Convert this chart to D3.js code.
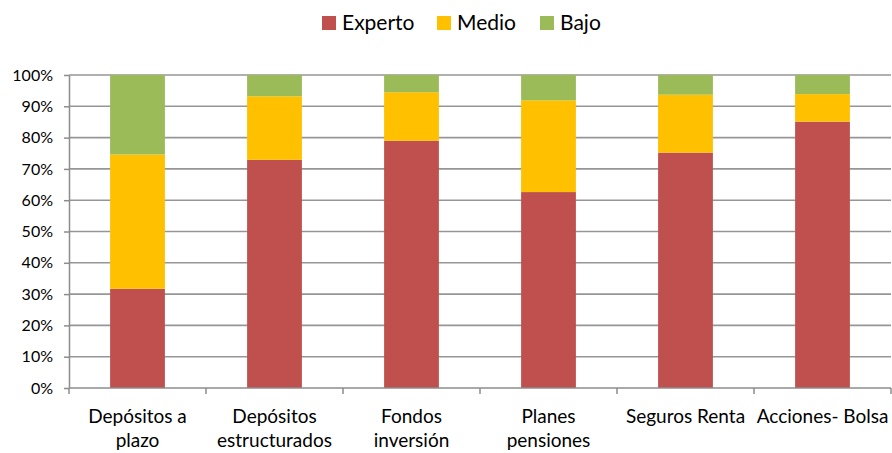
<!DOCTYPE html>
<html><head><meta charset="utf-8">
<script src="https://cdn.jsdelivr.net/npm/d3@7"></script>
<style>body{margin:0;background:#fff;} text{font-family:Lato,"Open Sans",sans-serif;fill:#000;}</style>
</head><body>
<svg id="c" width="892" height="453"></svg>
<script>
const categories = [["Depósitos a","plazo"],["Depósitos","estructurados"],["Fondos","inversión"],["Planes","pensiones"],["Seguros Renta"],["Acciones- Bolsa"]];
const seriesNames = ["Experto","Medio","Bajo"];
const colors = ["#C0504D","#FFC000","#9BBB59"];
const experto = [31.7, 72.9, 79.0, 62.6, 75.2, 85.1];
const medio   = [42.9, 20.3, 15.5, 29.3, 18.5, 8.8];
const bajo    = [25.4, 6.8, 5.5, 8.1, 6.3, 6.1];
const yTicks = [0,10,20,30,40,50,60,70,80,90,100];

const svg = d3.select("#c");
const mLeft = 69, mRight = 891, mTop = 75, mBottom = 388;
const keys = categories.map((c,i)=>i);
const x = d3.scaleBand().domain(keys).range([mLeft,mRight]).paddingInner(0.6).paddingOuter(0.3);
const y = d3.scaleLinear().domain([0,100]).range([mBottom,mTop]);

// gridlines
svg.append("g").selectAll("line").data(yTicks.filter(d=>d>0)).join("line")
  .attr("x1",mLeft).attr("x2",mRight).attr("y1",d=>y(d)).attr("y2",d=>y(d))
  .attr("stroke","#969696").attr("stroke-width",1.6);

const data = keys.map(i=>({i, Experto:experto[i], Medio:medio[i], Bajo:bajo[i]}));
const stack = d3.stack().keys(seriesNames)(data);
svg.append("g").selectAll("g").data(stack).join("g").attr("fill",(d,k)=>colors[k])
  .selectAll("rect").data(d=>d).join("rect")
  .attr("x",d=>x(d.data.i)).attr("width",x.bandwidth())
  .attr("y",d=>y(Math.min(100,d[1]))).attr("height",d=>y(d[0])-y(Math.min(100,d[1])));

// y axis
const ya = svg.append("g").attr("transform",`translate(${mLeft},0)`)
  .call(d3.axisLeft(y).tickValues(yTicks).tickFormat(d=>d+"%").tickSize(5).tickSizeOuter(0));
ya.select(".domain").attr("stroke","#8c8c8c").attr("stroke-width",1.5);
ya.selectAll(".tick line").attr("stroke","#8c8c8c").attr("stroke-width",1.5);
ya.selectAll(".tick text").attr("x",-16).style("font-size","16px").style("font-family","Lato,sans-serif").attr("fill","#000");

// x axis
const xa = svg.append("g").attr("transform",`translate(0,${mBottom})`);
xa.append("line").attr("x1",mLeft).attr("x2",mRight).attr("stroke","#8c8c8c").attr("stroke-width",1.5);
const bounds = d3.range(categories.length+1).map(j=>mLeft + j*(mRight-mLeft)/categories.length);
xa.selectAll("line.tk").data(bounds).join("line").attr("class","tk")
  .attr("x1",d=>d).attr("x2",d=>d).attr("y1",0).attr("y2",6).attr("stroke","#8c8c8c").attr("stroke-width",1.5);
const lbl = xa.selectAll("text.lb").data(keys).join("text").attr("class","lb")
  .attr("text-anchor","middle").style("font-size","19px")
  .attr("transform",d=>`translate(${x(d)+x.bandwidth()/2},35)`);
lbl.selectAll("tspan").data(d=>categories[d]).join("tspan").attr("x",0).attr("dy",(d,j)=>j===0?0:24).text(d=>d);

// legend
const leg = svg.append("g").attr("transform","translate(322,16)");
const legX = [0,115,218];
seriesNames.forEach((s,k)=>{
  const g = leg.append("g").attr("transform",`translate(${legX[k]},0)`);
  g.append("rect").attr("width",14).attr("height",14).attr("fill",colors[k]);
  g.append("text").attr("x",20).attr("y",13.5).style("font-size","21px").text(s);
});
</script>
</body></html>
